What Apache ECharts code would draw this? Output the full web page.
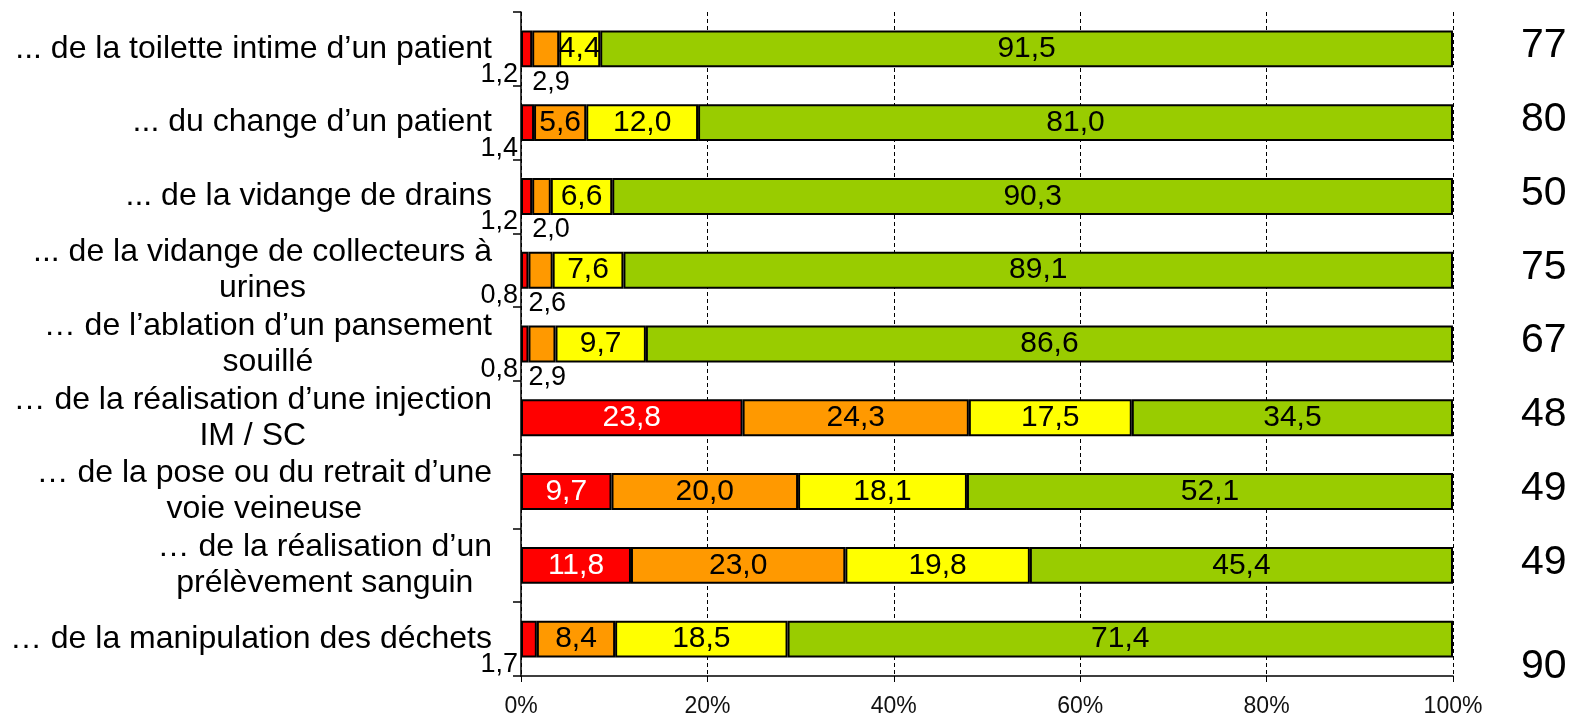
<!DOCTYPE html>
<html><head><meta charset="utf-8">
<script src="https://cdn.jsdelivr.net/npm/echarts@6/dist/echarts.min.js"></script>
<style>html,body{margin:0;padding:0;background:#fff}#c{width:1577px;height:718px}</style>
</head><body><div id="c"></div>
<script>
const categories = [
  "... de la toilette intime d’un patient",
  "... du change d’un patient",
  "... de la vidange de drains",
  "... de la vidange de collecteurs à\nurines",
  "… de l’ablation d’un pansement\nsouillé",
  "… de la réalisation d’une injection\nIM / SC",
  "… de la pose ou du retrait d’une\nvoie veineuse",
  "… de la réalisation d’un\nprélèvement sanguin",
  "… de la manipulation des déchets"
];
const red    = [1.2, 1.4, 1.2, 0.8, 0.8, 23.8, 9.7, 11.8, 1.7];
const orange = [2.9, 5.6, 2.0, 2.6, 2.9, 24.3, 20.0, 23.0, 8.4];
const yellow = [4.4, 12.0, 6.6, 7.6, 9.7, 17.5, 18.1, 19.8, 18.5];
const green  = [91.5, 81.0, 90.3, 89.1, 86.6, 34.5, 52.1, 45.4, 71.4];
const rightNumbers = ["77", "80", "50", "75", "67", "48", "49", "49", "90"];
const xTicks = [0, 20, 40, 60, 80, 100];

const FONT = '"Liberation Sans", Arial, sans-serif';
const totals = categories.map((_, i) => red[i] + orange[i] + yellow[i] + green[i]);
const fmt = v => v.toFixed(1).replace('.', ',');

function makeData(arr, kind) {
  return arr.map((v, i) => {
    const item = { value: v / totals[i] * 100 };
    if (v < 3) {
      if (kind === 'red') {
        item.label = { position: [-3, '100%'], offset: [0, 7], align: 'right', verticalAlign: 'middle', fontSize: 27, color: '#000' };
      } else {
        item.label = { position: [0, '100%'], offset: [0, 15], align: 'left', verticalAlign: 'middle', fontSize: 27, color: '#000' };
      }
    }
    return item;
  });
}

function mkSeries(name, arr, color, kind, labelColor) {
  return {
    name: name, type: 'bar', stack: 'total', barWidth: '50%',
    itemStyle: { color: color, borderColor: '#000', borderWidth: 2 },
    label: {
      show: true, position: 'inside', fontSize: 30, fontFamily: FONT, color: labelColor,
      formatter: p => fmt(arr[p.dataIndex])
    },
    data: makeData(arr, kind)
  };
}

const chart = echarts.init(document.getElementById('c'));
chart.setOption({
  animation: false,
  textStyle: { fontFamily: FONT },
  grid: { left: 521, right: 124, top: 12, bottom: 39, containLabel: false },
  xAxis: {
    type: 'value', min: 0, max: 100, interval: 20,
    axisLine: { show: true, lineStyle: { color: '#000', width: 1.5 } },
    axisTick: { show: true, length: 6, lineStyle: { color: '#000' } },
    axisLabel: { fontSize: 23, color: '#111', margin: 19, fontFamily: FONT,
      formatter: v => (xTicks.indexOf(v) >= 0 ? v + '%' : '') },
    splitLine: { show: true, lineStyle: { color: '#000', type: [4, 3], width: 1 } }
  },
  yAxis: [{
    type: 'category', inverse: true, data: categories,
    axisLine: { show: true, lineStyle: { color: '#000', width: 1.5 } },
    axisTick: { show: true, length: 8, lineStyle: { color: '#000', width: 1.5 } },
    axisLabel: {
      margin: 29, align: 'right', color: '#000',
      formatter: v => v.split('\n').map(l => '{c|' + l + '}').join('\n'),
      rich: { c: { fontSize: 32, lineHeight: 36, align: 'center', color: '#000', fontFamily: FONT } }
    }
  }, {
    type: 'category', inverse: true, data: rightNumbers, position: 'right',
    axisLine: { show: false }, axisTick: { show: false },
    axisLabel: {
      margin: 68, align: 'left', color: '#000',
      formatter: (v, i) => (i === rightNumbers.length - 1 ? '{b|' + v + '}' : '{a|' + v + '}'),
      rich: {
        a: { fontSize: 41, color: '#000', fontFamily: FONT, padding: [0, 0, 6, 0] },
        b: { fontSize: 41, color: '#000', fontFamily: FONT, padding: [56, 0, 0, 0] }
      }
    }
  }],
  series: [
    mkSeries('Rouge', red, '#FF0000', 'red', '#fff'),
    mkSeries('Orange', orange, '#FF9900', 'orange', '#000'),
    mkSeries('Jaune', yellow, '#FFFF00', 'yellow', '#000'),
    mkSeries('Vert', green, '#99CC00', 'green', '#000')
  ]
});
</script>
</body></html>
